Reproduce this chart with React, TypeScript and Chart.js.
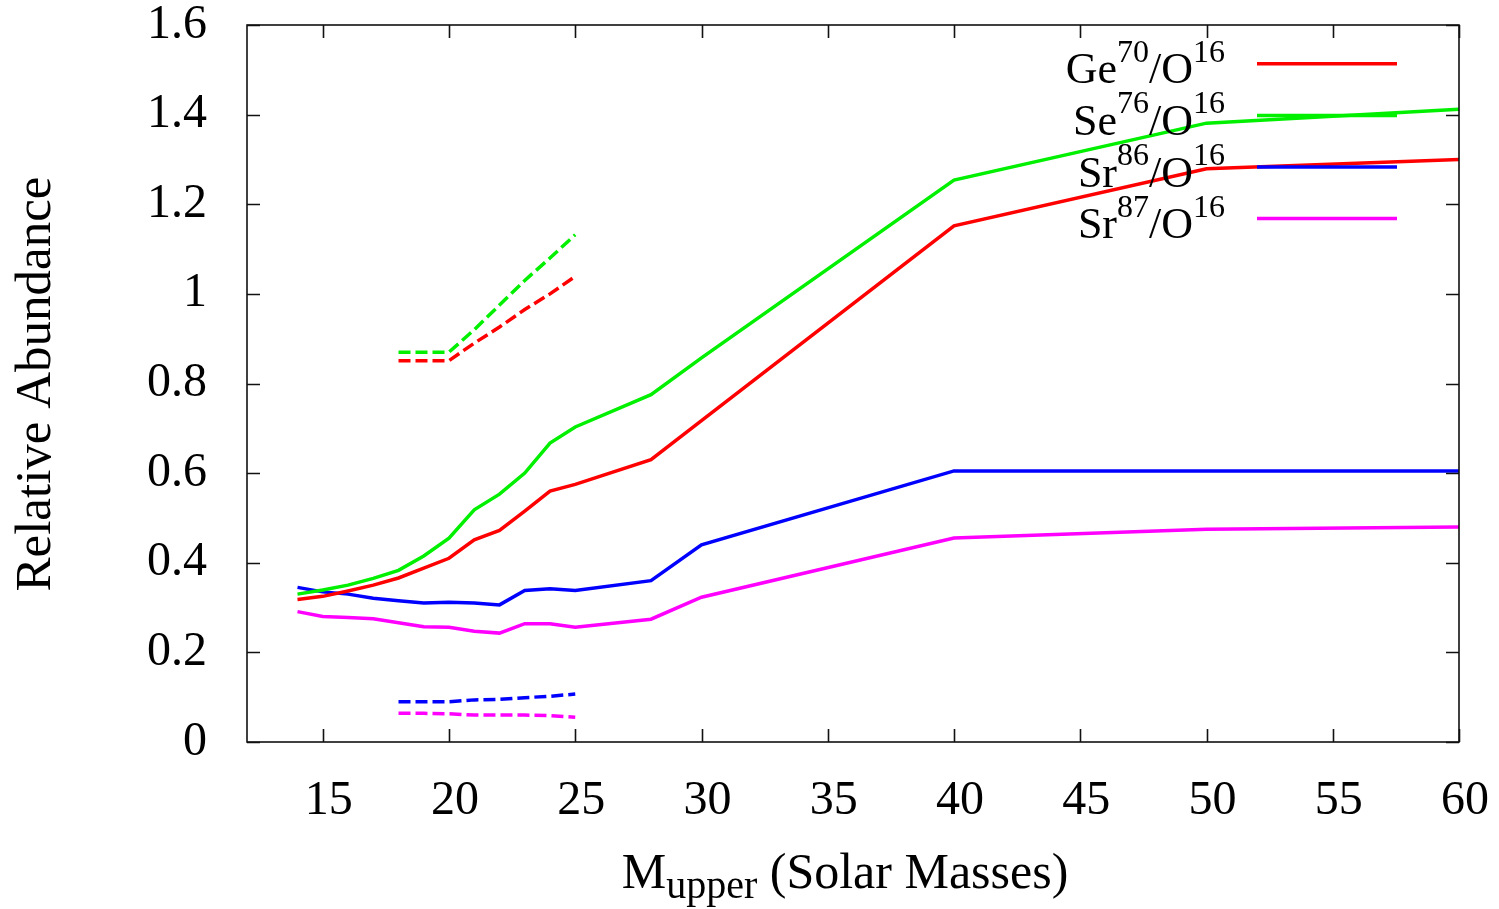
import React, { useEffect, useRef } from "react";
import { Chart, registerables } from "chart.js";

Chart.register(...registerables);

const SERIF = '"Liberation Serif", "Times New Roman", Times, serif';

// Upper stellar mass limit (solar masses) for the solid curves
const massSolid = [14, 15, 16, 17, 18, 19, 20, 21, 22, 23, 24, 25, 28, 30, 40, 50, 60];
const ge70Solid = [0.318, 0.325, 0.337, 0.35, 0.366, 0.388, 0.41, 0.451, 0.472, 0.515, 0.56, 0.575, 0.63, 0.717, 1.152, 1.279, 1.3];
const se76Solid = [0.33, 0.339, 0.35, 0.365, 0.383, 0.415, 0.455, 0.518, 0.553, 0.6, 0.667, 0.703, 0.775, 0.857, 1.254, 1.381, 1.412];
const sr86Solid = [0.345, 0.335, 0.33, 0.321, 0.315, 0.31, 0.312, 0.31, 0.306, 0.338, 0.342, 0.338, 0.36, 0.44, 0.605, 0.605, 0.605];
const sr87Solid = [0.291, 0.28, 0.278, 0.275, 0.266, 0.257, 0.256, 0.247, 0.243, 0.264, 0.264, 0.256, 0.274, 0.323, 0.455, 0.475, 0.48];

// Dashed curves (alternative model), 18 to 25 solar masses
const massDashed = [18, 19, 20, 21, 22, 23, 24, 25];
const ge70Dashed = [0.851, 0.851, 0.851, 0.89, 0.926, 0.965, 1.0, 1.039];
const se76Dashed = [0.87, 0.87, 0.87, 0.92, 0.975, 1.03, 1.08, 1.132];
const sr86Dashed = [0.09, 0.09, 0.09, 0.094, 0.095, 0.099, 0.102, 0.107];
const sr87Dashed = [0.064, 0.064, 0.063, 0.06, 0.06, 0.06, 0.059, 0.055];

const xTickValues = [15, 20, 25, 30, 35, 40, 45, 50, 55, 60];
const xTickLabels = ["15", "20", "25", "30", "35", "40", "45", "50", "55", "60"];
const yTickValues = [0, 0.2, 0.4, 0.6, 0.8, 1, 1.2, 1.4, 1.6];
const yTickLabels = ["0", "0.2", "0.4", "0.6", "0.8", "1", "1.2", "1.4", "1.6"];

const seriesElements = ["Ge", "Se", "Sr", "Sr"];
const seriesMassNumbers = ["70", "76", "86", "87"];
const seriesColors = ["#ff0000", "#00f000", "#0000ff", "#ff00ff"];

const solidValues = [ge70Solid, se76Solid, sr86Solid, sr87Solid];
const dashedValues = [ge70Dashed, se76Dashed, sr86Dashed, sr87Dashed];

const toPoints = (xs: number[], ys: number[]) => xs.map((x, i) => ({ x, y: ys[i] }));

// Scales keep a fixed size and claim no extra room for overhanging labels
const fixScale = (size: { width?: number; height?: number }) => (s: any) => {
  if (size.width !== undefined) s.width = size.width;
  if (size.height !== undefined) s.height = size.height;
  s.paddingTop = 0;
  s.paddingBottom = 0;
  s.paddingLeft = 0;
  s.paddingRight = 0;
};

// Frame with inward ticks on all four sides, axis titles and the key
const decorations = {
  id: "decorations",
  afterDatasetsDraw(chart: Chart) {
    const { ctx, chartArea } = chart;
    const { left, right, top, bottom } = chartArea;
    const xs = chart.scales.x;
    const ys = chart.scales.y;
    const tickLen = 13;

    ctx.save();
    ctx.strokeStyle = "#111";
    ctx.lineWidth = 1.6;
    ctx.beginPath();
    for (const v of xTickValues) {
      const px = Math.round(xs.getPixelForValue(v)) + 0.5;
      ctx.moveTo(px, bottom);
      ctx.lineTo(px, bottom - tickLen);
      ctx.moveTo(px, top);
      ctx.lineTo(px, top + tickLen);
    }
    for (const v of yTickValues) {
      const py = Math.round(ys.getPixelForValue(v)) + 0.5;
      ctx.moveTo(left, py);
      ctx.lineTo(left + tickLen, py);
      ctx.moveTo(right, py);
      ctx.lineTo(right - tickLen, py);
    }
    ctx.stroke();
    ctx.strokeRect(left, top, right - left, bottom - top);

    ctx.fillStyle = "#000";

    // y-axis title
    ctx.save();
    ctx.translate(50, (top + bottom) / 2 + 0.5);
    ctx.rotate(-Math.PI / 2);
    ctx.font = `51px ${SERIF}`;
    ctx.textAlign = "center";
    ctx.textBaseline = "alphabetic";
    ctx.fillText("Relative Abundance", 0, 0);
    ctx.restore();

    // x-axis title with subscript
    ctx.textBaseline = "alphabetic";
    ctx.textAlign = "left";
    const mainFont = `50px ${SERIF}`;
    const subFont = `40px ${SERIF}`;
    ctx.font = mainFont;
    const wM = ctx.measureText("M").width;
    const wRest = ctx.measureText(" (Solar Masses)").width;
    ctx.font = subFont;
    const wSub = ctx.measureText("upper").width;
    const totalW = wM + wSub + wRest;
    let tx = 845 - totalW / 2;
    const baseY = 888;
    ctx.font = mainFont;
    ctx.fillText("M", tx, baseY);
    tx += wM;
    ctx.font = subFont;
    ctx.fillText("upper", tx, baseY + 10);
    tx += wSub;
    ctx.font = mainFont;
    ctx.fillText(" (Solar Masses)", tx, baseY);

    // key: right-aligned labels with superscripts, followed by sample lines
    const keyMain = `44px ${SERIF}`;
    const keySup = `32px ${SERIF}`;
    const textRight = 1225;
    const lineX0 = 1257;
    const lineX1 = 1397;
    for (let i = 0; i < seriesElements.length; i++) {
      const by = 83.3 + 51.6 * i;
      const parts = [
        { t: seriesElements[i], f: keyMain, dy: 0 },
        { t: seriesMassNumbers[i], f: keySup, dy: -21.5 },
        { t: "/O", f: keyMain, dy: 0 },
        { t: "16", f: keySup, dy: -21.5 },
      ];
      let w = 0;
      for (const p of parts) {
        ctx.font = p.f;
        w += ctx.measureText(p.t).width;
      }
      let px = textRight - w;
      for (const p of parts) {
        ctx.font = p.f;
        ctx.fillText(p.t, px, by + p.dy);
        px += ctx.measureText(p.t).width;
      }
      ctx.strokeStyle = seriesColors[i];
      ctx.lineWidth = 3.5;
      ctx.beginPath();
      ctx.moveTo(lineX0, by - 19.5);
      ctx.lineTo(lineX1, by - 19.5);
      ctx.stroke();
    }
    ctx.restore();
  },
};

export default function App() {
  const canvasRef = useRef<HTMLCanvasElement | null>(null);

  useEffect(() => {
    const canvas = canvasRef.current;
    if (!canvas) return;

    const solidSets = solidValues.map((vals, i) => ({
      label: `${seriesElements[i]}${seriesMassNumbers[i]}/O16`,
      data: toPoints(massSolid, vals),
      borderColor: seriesColors[i],
      backgroundColor: seriesColors[i],
      borderWidth: 3.5,
      pointRadius: 0,
      tension: 0,
      fill: false,
    }));
    const dashedSets = dashedValues.map((vals, i) => ({
      label: `${seriesElements[i]}${seriesMassNumbers[i]}/O16 (dashed)`,
      data: toPoints(massDashed, vals),
      borderColor: seriesColors[i],
      backgroundColor: seriesColors[i],
      borderWidth: 3.5,
      borderDash: [12, 5],
      pointRadius: 0,
      tension: 0,
      fill: false,
    }));

    const chart = new Chart(canvas, {
      type: "line",
      data: { datasets: [...solidSets, ...dashedSets] },
      options: {
        responsive: false,
        animation: false,
        devicePixelRatio: 1,
        layout: { padding: { left: 0, right: 40, top: 25, bottom: 0 } },
        plugins: {
          legend: { display: false },
          tooltip: { enabled: false },
          title: { display: false },
        },
        scales: {
          x: {
            type: "linear",
            min: 12,
            max: 60,
            grid: { display: false },
            border: { display: false },
            afterBuildTicks: (s: any) => {
              s.ticks = xTickValues.map((v) => ({ value: v }));
            },
            afterFit: fixScale({ height: 167 }),
            ticks: {
              autoSkip: false,
              maxRotation: 0,
              minRotation: 0,
              padding: 27,
              labelOffset: 6,
              color: "#000",
              font: { family: SERIF, size: 48, lineHeight: 1 },
              callback: (v: any) => {
                const i = xTickValues.indexOf(Number(v));
                return i >= 0 ? xTickLabels[i] : "";
              },
            },
          },
          y: {
            type: "linear",
            min: 0,
            max: 1.6,
            grid: { display: false },
            border: { display: false },
            afterBuildTicks: (s: any) => {
              s.ticks = yTickValues.map((v) => ({ value: v }));
            },
            afterFit: fixScale({ width: 247 }),
            ticks: {
              autoSkip: false,
              padding: 32,
              color: "#000",
              font: { family: SERIF, size: 48, lineHeight: 1 },
              callback: (v: any) => {
                const i = yTickValues.indexOf(Number(v));
                return i >= 0 ? yTickLabels[i] : "";
              },
            },
          },
        },
      },
      plugins: [decorations],
    });

    return () => chart.destroy();
  }, []);

  return (
    <div
      style={{
        position: "fixed",
        left: 0,
        top: 0,
        width: 1499,
        height: 909,
        background: "#fff",
      }}
    >
      <canvas ref={canvasRef} width={1499} height={909} style={{ display: "block" }} />
    </div>
  );
}
